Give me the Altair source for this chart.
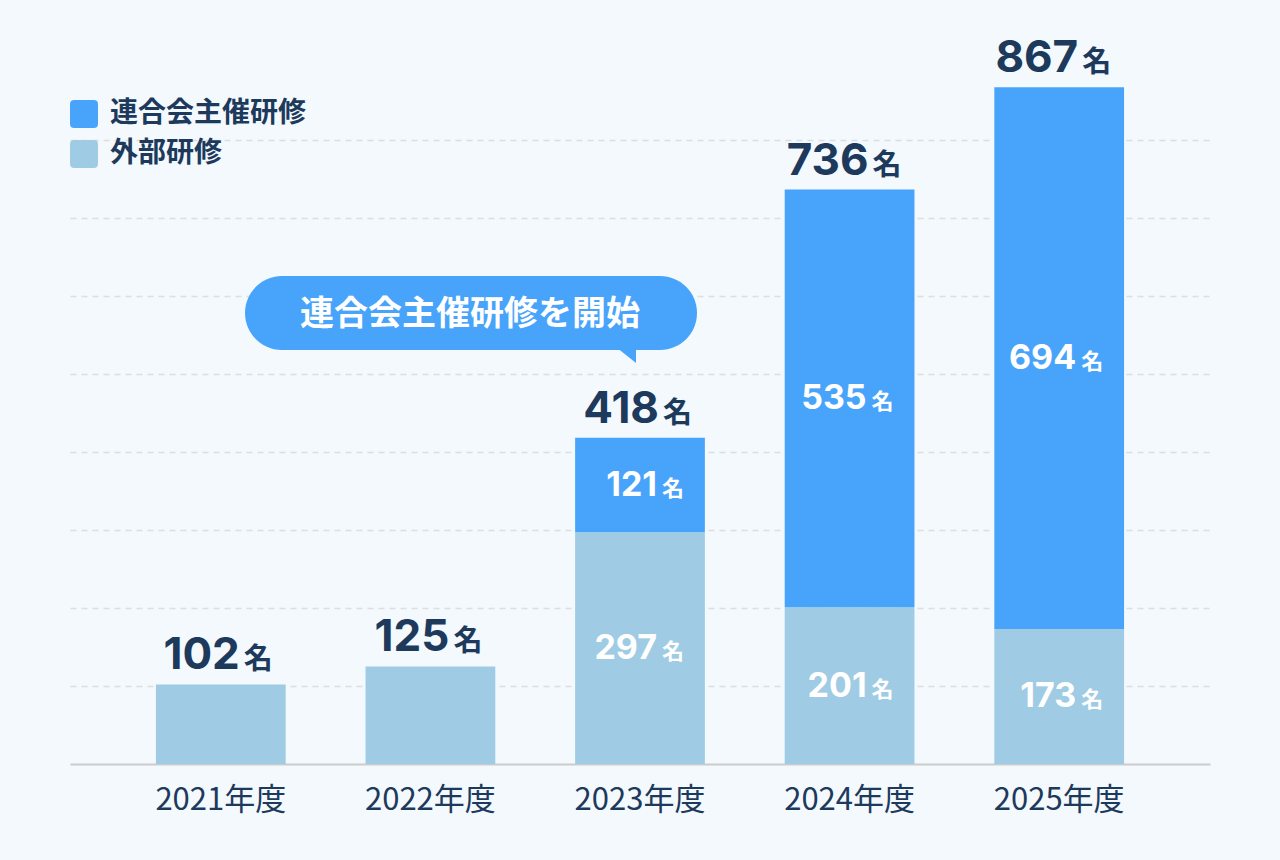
import altair as alt
import pandas as pd

years = ["2021年度", "2022年度", "2023年度", "2024年度", "2025年度"]
external = [102, 125, 297, 201, 173]
association = [0, 0, 121, 535, 694]
totals = [102, 125, 418, 736, 867]
series_names = ["連合会主催研修", "外部研修"]
callout_text = "連合会主催研修を開始"

BLUE = "#48a4fa"
LIGHT = "#9fcce4"
NAVY = "#1d3a5c"
BG = "#f3f9fd"
JP = "Noto Sans CJK JP"
NUM = "Inter"

rows = []
for y, e, a in zip(years, external, association):
    rows.append({"year": y, "series": "外部研修", "value": e, "ord": 0, "mid": e / 2})
    if a > 0:
        rows.append({"year": y, "series": "連合会主催研修", "value": a, "ord": 1, "mid": e + a / 2})
df = pd.DataFrame(rows)
df["label"] = df["value"].astype(str)
inner = df[df["year"].isin(years[2:])]
tot = pd.DataFrame({"year": years, "total": totals, "label": [str(t) for t in totals]})

xenc = alt.X("year:N", sort=years,
             scale=alt.Scale(paddingInner=0.381, paddingOuter=0.41),
             axis=alt.Axis(title=None, labelAngle=0, labelFont=JP, labelFontSize=31,
                           labelColor=NAVY, labelPadding=21, ticks=False,
                           domainColor="#cccccc", domainWidth=2))
yscale = alt.Scale(domain=[0, 870], nice=False)

path_rr = ("M -0.7 -1 L 0.7 -1 Q 1 -1 1 -0.7 L 1 0.7 Q 1 1 0.7 1 L -0.7 1 "
           "Q -1 1 -1 0.7 L -1 -0.7 Q -1 -1 -0.7 -1 Z")

bars = alt.Chart(df).mark_bar().encode(
    x=xenc,
    y=alt.Y("value:Q", stack="zero", scale=yscale,
            axis=alt.Axis(title=None, labels=False, ticks=False, domain=False,
                          grid=True, gridColor="#dedede", gridDash=[6, 5],
                          gridWidth=1.5, values=[100, 200, 300, 400, 500, 600, 700, 800])),
    color=alt.Color("series:N",
                    scale=alt.Scale(domain=series_names, range=[BLUE, LIGHT]),
                    legend=alt.Legend(title=None, orient="none", legendX=0, legendY=15,
                                      symbolType=path_rr, symbolSize=784,
                                      symbolStrokeWidth=0, symbolOpacity=1,
                                      labelFont=JP, labelFontSize=28, labelFontWeight="bold",
                                      labelColor=NAVY, labelOffset=12, rowPadding=12,
                                      labelLimit=0, padding=0)),
    order=alt.Order("ord:Q"),
)

in_num = alt.Chart(inner).mark_text(font=NUM, fontWeight="bold", fontSize=34, color="white",
                                    align="right", baseline="middle", dx=17, dy=1).encode(
    x=alt.X("year:N", sort=years), y=alt.Y("mid:Q", scale=yscale), text="label:N")
in_unit = alt.Chart(inner).mark_text(font=JP, fontWeight="bold", fontSize=22, color="white",
                                     align="left", baseline="middle", dx=22, dy=4).encode(
    x=alt.X("year:N", sort=years), y=alt.Y("mid:Q", scale=yscale), text=alt.value("名"))

top_num = alt.Chart(tot).mark_text(font=NUM, fontWeight="bold", fontSize=44, color=NAVY,
                                   align="right", baseline="alphabetic", dx=19, dy=-15).encode(
    x=alt.X("year:N", sort=years), y=alt.Y("total:Q", scale=yscale), text="label:N")
top_unit = alt.Chart(tot).mark_text(font=JP, fontWeight="bold", fontSize=29, color=NAVY,
                                    align="left", baseline="alphabetic", dx=23, dy=-15).encode(
    x=alt.X("year:N", sort=years), y=alt.Y("total:Q", scale=yscale), text=alt.value("名"))

cdf = pd.DataFrame({"t": [callout_text]})
bubble = alt.Chart(cdf).mark_rect(color=BLUE, cornerRadius=37).encode(
    x=alt.value(175), x2=alt.value(627), y=alt.value(191), y2=alt.value(265))
tail = alt.Chart(cdf).mark_point(
    shape="M -1 -0.6 L 1 -0.6 L 1 1 Z", filled=True, color=BLUE, opacity=1, size=441,
    strokeWidth=0).encode(x=alt.value(555.5), y=alt.value(267.5))
ctext = alt.Chart(cdf).mark_text(font=JP, fontWeight="bold", fontSize=34, color="white",
                                 align="center", baseline="middle").encode(
    x=alt.value(400), y=alt.value(230), text="t:N")

chart = alt.layer(bars, in_num, in_unit, top_num, top_unit, bubble, tail, ctext).properties(
    width=1140, height=679, background=BG,
    padding={"left": 70, "top": 85, "right": 70, "bottom": 96},
    autosize=alt.AutoSizeParams(type="none"),
).configure_view(stroke=None)

chart.save("out.html", embed_options={"renderer": "svg", "actions": False})
